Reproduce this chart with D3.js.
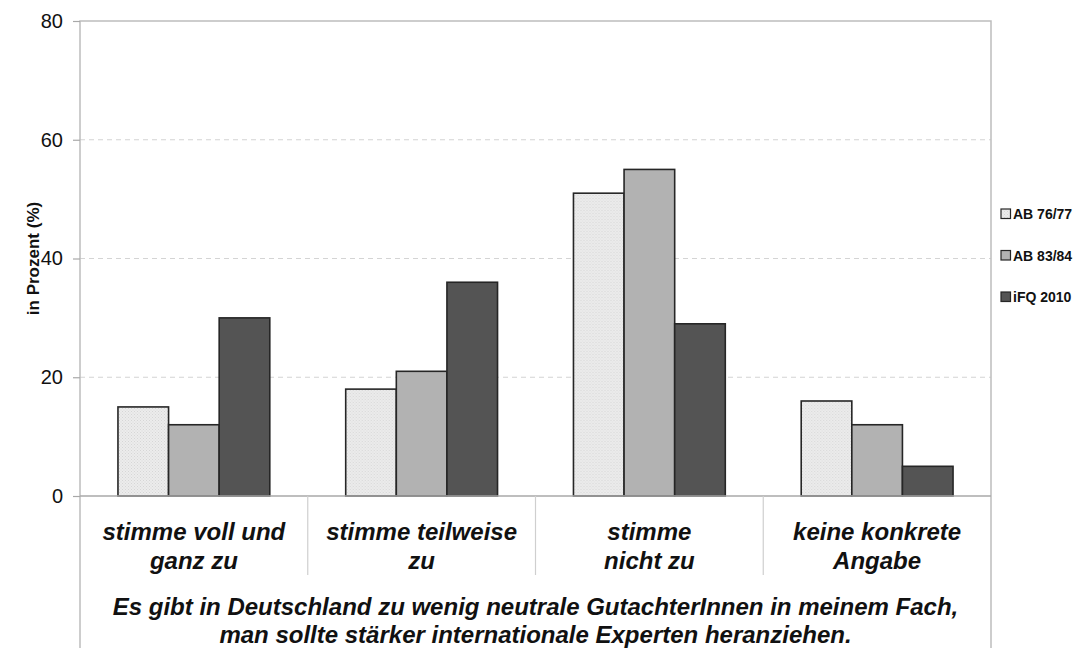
<!DOCTYPE html>
<html>
<head>
<meta charset="utf-8">
<script src="https://cdn.jsdelivr.net/npm/d3@7"></script>
<style>
  body { margin: 0; background: #fff; }
  svg { display: block; font-family: "Liberation Sans", Arial, sans-serif; }
</style>
</head>
<body>
<svg id="chart" width="1079" height="648"></svg>
<script>
const categories = [
  ["stimme voll und", "ganz zu"],
  ["stimme teilweise", "zu"],
  ["stimme", "nicht zu"],
  ["keine konkrete", "Angabe"]
];
const seriesNames = ["AB 76/77", "AB 83/84", "iFQ 2010"];
const ab7677 = [15, 18, 51, 16];
const ab8384 = [12, 21, 55, 12];
const ifq2010 = [30, 36, 29, 5];
const yTicks = [0, 20, 40, 60, 80];
const captionLines = [
  "Es gibt in Deutschland zu wenig neutrale GutachterInnen in meinem Fach,",
  "man sollte stärker internationale Experten heranziehen."
];
const yLabel = "in Prozent (%)";

const seriesValues = [ab7677, ab8384, ifq2010];
const fills = ["url(#dots)", "#b2b2b2", "#545454"];

const svg = d3.select("#chart");
const pLeft = 80, pRight = 991, pTop = 21, pBottom = 496;

// pattern for light series
const defs = svg.append("defs");
const pat = defs.append("pattern").attr("id", "dots")
  .attr("width", 3).attr("height", 3).attr("patternUnits", "userSpaceOnUse");
pat.append("rect").attr("width", 3).attr("height", 3).attr("fill", "#ececec");
pat.append("rect").attr("x", 0).attr("y", 0).attr("width", 1).attr("height", 1).attr("fill", "#d6d6d6");
pat.append("rect").attr("x", 1.5).attr("y", 1.5).attr("width", 1).attr("height", 1).attr("fill", "#dadada");

const catKeys = categories.map(c => c.join(" "));
const x0 = d3.scaleBand().domain(catKeys).range([pLeft, pRight]).padding(0);
const x1 = d3.scaleBand().domain(seriesNames).range([0, x0.bandwidth()])
  .paddingInner(0).paddingOuter(0.75);
const y = d3.scaleLinear().domain([0, 80]).range([pBottom, pTop]);

// gridlines
svg.append("g").selectAll("line").data(yTicks.filter(t => t > 0 && t < 80)).join("line")
  .attr("x1", pLeft).attr("x2", pRight)
  .attr("y1", d => y(d)).attr("y2", d => y(d))
  .attr("stroke", "#d4d4d4").attr("stroke-width", 1.2).attr("stroke-dasharray", "5,4");

// frame
svg.append("path")
  .attr("d", `M${pLeft},648 V${pTop} H${pRight} V648`)
  .attr("fill", "none").attr("stroke", "#bdbdbd").attr("stroke-width", 1.5);

// y axis
const yAxis = d3.axisLeft(y).tickValues(yTicks).tickSize(7).tickPadding(10);
const gy = svg.append("g").attr("transform", `translate(${pLeft},0)`).call(yAxis);
gy.select(".domain").remove();
gy.selectAll(".tick line").attr("stroke", "#a8a8a8").attr("stroke-width", 1.2);
gy.selectAll(".tick text").attr("font-size", 20).attr("fill", "#111")
  .attr("font-family", "'Liberation Sans', Arial, sans-serif");

// y label
svg.append("text")
  .attr("transform", `translate(39,${(pTop + pBottom) / 2}) rotate(-90)`)
  .attr("text-anchor", "middle").attr("font-size", 17).attr("font-weight", "bold")
  .attr("fill", "#111").text(yLabel);

// bars
const groups = svg.append("g").selectAll("g").data(catKeys).join("g")
  .attr("transform", d => `translate(${x0(d)},0)`);
groups.selectAll("rect")
  .data((d, i) => seriesNames.map((s, j) => ({ s, j, v: seriesValues[j][i] })))
  .join("rect")
  .attr("x", d => x1(d.s))
  .attr("width", x1.bandwidth())
  .attr("y", d => y(d.v))
  .attr("height", d => y(0) - y(d.v))
  .attr("fill", d => fills[d.j])
  .attr("stroke", "#262626").attr("stroke-width", 1.6);

// x axis baseline
svg.append("line").attr("x1", pLeft).attr("x2", pRight)
  .attr("y1", pBottom).attr("y2", pBottom)
  .attr("stroke", "#a8a8a8").attr("stroke-width", 1.5);

// category separators
svg.append("g").selectAll("line").data(catKeys.slice(1)).join("line")
  .attr("x1", d => x0(d)).attr("x2", d => x0(d))
  .attr("y1", pBottom).attr("y2", 575)
  .attr("stroke", "#cfcfcf").attr("stroke-width", 1.2);

// category labels
const catLabels = svg.append("g").selectAll("text").data(categories).join("text")
  .attr("x", (d, i) => x0(catKeys[i]) + x0.bandwidth() / 2)
  .attr("text-anchor", "middle")
  .attr("font-size", 24).attr("font-weight", "bold").attr("font-style", "italic")
  .attr("fill", "#111");
catLabels.selectAll("tspan").data(d => d).join("tspan")
  .attr("x", function () { return d3.select(this.parentNode).attr("x"); })
  .attr("y", (d, i) => 540 + i * 29)
  .text(d => d);

// caption
svg.append("g").selectAll("text").data(captionLines).join("text")
  .attr("x", (pLeft + pRight) / 2)
  .attr("y", (d, i) => 615 + i * 28)
  .attr("text-anchor", "middle")
  .attr("font-size", 24).attr("font-weight", "bold").attr("font-style", "italic")
  .attr("fill", "#111").text(d => d);

// legend
const leg = svg.append("g").selectAll("g").data(seriesNames).join("g")
  .attr("transform", (d, i) => `translate(1001,${214 + i * 41.5})`);
leg.append("rect").attr("x", 0).attr("y", -5).attr("width", 9.5).attr("height", 9.5)
  .attr("fill", (d, i) => fills[i]).attr("stroke", "#262626").attr("stroke-width", 1.2);
leg.append("text").attr("x", 12).attr("y", 5)
  .attr("font-size", 14).attr("font-weight", "bold").attr("fill", "#111")
  .text(d => d);
</script>
</body>
</html>
